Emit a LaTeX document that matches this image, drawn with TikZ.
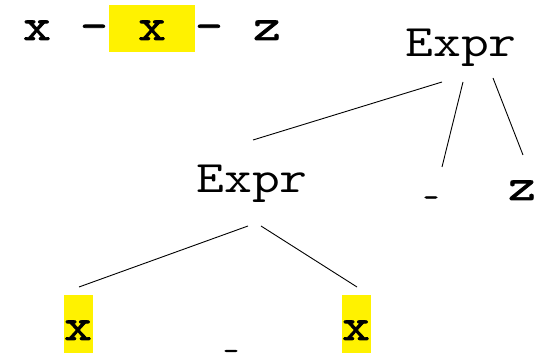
\documentclass[tikz,border=0pt]{standalone}
\usepackage{fontspec}
\setmonofont[FakeStretch=1.2,AutoFakeBold=1.6]{Latin Modern Mono}
\usetikzlibrary{positioning}
\tikzset{%
      word/.style = { inner sep=0pt, anchor=base, font=\ttfamily\fontsize{45}{50}\selectfont },
      bold/.style = { word, font=\ttfamily\bfseries\fontsize{45}{50}\selectfont },
    minus/.style = { inner sep=0pt, font=\ttfamily\bfseries\fontsize{26}{30}\selectfont },
       hl/.style = { bold, fill=yellow, minimum width=86pt, text height=35pt, text depth=12pt },
   leafhl/.style = { bold, fill=yellow, minimum width=29pt, text height=45pt, text depth=20pt },
     edge/.style = { line width=0.9pt }
}
\begin{document}
\begin{tikzpicture}[x=1pt,y=1pt]
\useasboundingbox (0,0) rectangle (552,353);
\clip (0,0) rectangle (552,353);
% the input line
\node[bold] (in1) at (37,313) {x};
\node[bold] (in2) at (94,313) {\textendash};
\node[hl] (in3) at (152,313) {x};
\node[bold] (in4) at (209,313) {\textendash};
\node[bold] (in5) at (267,313) {z};
% the tree
\node[word] (root) at (461,296) {Expr};
\node[word] (sub) at (252,160) {Expr};
\node[minus] (op1) at (431,152) {-};
\node[bold] (rz) at (522,153) {z};
\node[leafhl] (lx) at (78,13) {x};
\node[leafhl] (rx) at (356,13) {x};
\node[minus] (op2) at (231,-1.5) {-};
% edge ends
\coordinate (root-a) at (442,271); \coordinate (sub-top) at (253,213);
\coordinate (root-b) at (463,271); \coordinate (op1-top) at (442,186);
\coordinate (root-c) at (493,275); \coordinate (rz-top) at (523,198);
\coordinate (sub-a) at (248,127); \coordinate (lx-top) at (79,66);
\coordinate (sub-b) at (261,127); \coordinate (rx-top) at (357,66);
\draw[edge] (root-a) -- (sub-top);
\draw[edge] (root-b) -- (op1-top);
\draw[edge] (root-c) -- (rz-top);
\draw[edge] (sub-a) -- (lx-top);
\draw[edge] (sub-b) -- (rx-top);
\end{tikzpicture}
\end{document}
